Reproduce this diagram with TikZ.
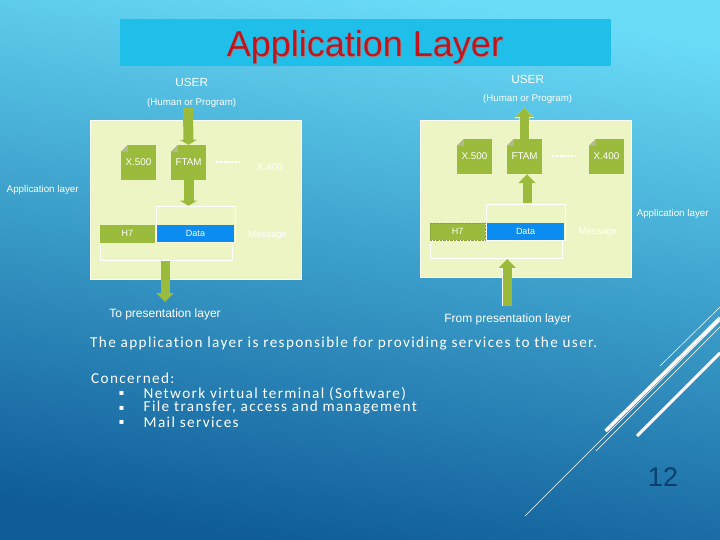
\documentclass[tikz,border=0pt]{standalone}
\usepackage{fontspec}
\setmainfont{Liberation Sans}
\newfontfamily\slidefont[LetterSpace=9, Ligatures=NoCommon]{Carlito}
\newfontfamily\bulletfont{DejaVu Sans}
\usetikzlibrary{positioning, arrows.meta}
\definecolor{bgtop}{HTML}{6ADCF8}
\definecolor{bgmid}{HTML}{3A9CC8}
\definecolor{bgbottom}{HTML}{0F5C98}
\definecolor{bandblue}{HTML}{1FBFEA}
\definecolor{panelgreen}{HTML}{EEF5C4}
\definecolor{boxgreen}{HTML}{9BBB3D}
\definecolor{datablue}{HTML}{0A8CF0}
\definecolor{titlered}{HTML}{C0141E}
\definecolor{numblue}{HTML}{0B3F6E}
\tikzset{
  panel/.style={fill=panelgreen, draw=white, line width=.6pt, minimum width=211pt, inner sep=0pt},
  appbox/.style={fill=boxgreen, text=white, minimum width=35pt, minimum height=35pt, inner sep=0pt, font=\fontsize{9.8}{11}\selectfont},
  hdrbox/.style={fill=boxgreen, text=white, minimum width=55pt, minimum height=17.5pt, inner sep=0pt, font=\fontsize{9}{10}\selectfont},
  databox/.style={fill=datablue, text=white, minimum width=77pt, minimum height=17pt, inner sep=0pt, font=\fontsize{9}{10}\selectfont},
  framebox/.style={draw=white, line width=.6pt, inner sep=0pt},
  plain/.style={text=white, inner sep=0pt, font=\fontsize{#1}{12}\selectfont},
  plain/.default=9.8,
  bodytext/.style={text=white, inner sep=0pt, anchor=west, font=\slidefont\fontsize{15.2}{17}\selectfont},
  flow/.style={draw=boxgreen, line width=9pt, -{Triangle[width=17pt, length=9pt]}},
  flowshort/.style={draw=boxgreen, line width=10pt, -{Triangle[width=17pt, length=5pt]}},
  flowedge/.style={draw=white, line width=10.2pt, -{Triangle[width=19pt, length=10pt]}},
  dots/.style={draw=white, line width=2pt, dash pattern=on 3pt off .8pt},
}
\begin{document}
\begin{tikzpicture}[x=1pt, y=-1pt, node distance=50pt]
  \useasboundingbox (0,0) rectangle (720,540);
  % Background
  \shade[top color=bgtop, bottom color=bgbottom, middle color=bgmid, shading angle=-9] (0,0) rectangle (720,540);
  \draw[white, line width=.5pt] (660,366) -- (720,307);
  \draw[white, line width=3.5pt] (605.5,431) -- (720,318);
  \draw[white, line width=.5pt] (596,451) -- (720,327);
  \draw[white, line width=3pt] (637,436) -- (720,353);
  \draw[white, line width=.5pt] (525,516) -- (720,321);

  % Title
  \node (band) [fill=bandblue, minimum width=491pt, minimum height=47pt, inner sep=0pt] at (365.5,42.5) {};
  \node (shadow) [text=black!45, inner sep=0pt, font=\fontsize{36}{40}\selectfont] at (365.8,47.8) {Application Layer};
  \node (title) [text=titlered, inner sep=0pt, font=\fontsize{36}{40}\selectfont] at (365,47) {Application Layer};

  % Left panel
  \node (panelL) [panel, minimum height=159pt] at (195.5,199.5) {};
  \node (userL) [plain=11.8] at (191.7,82.7) {USER};
  \node (humanL) [plain=9.7] at (191.7,102.7) {(Human or Program)};
  \node (x500L) [appbox] at (138.5,162.5) {X.500};
  \node (ftamL) [right of=x500L, appbox] {FTAM};
  \coordinate (dotsAL) at (216,161.7);
  \coordinate (dotsBL) at (240,161.7);
  \node (x400L) [plain] at (270,166.7) {X.400};
  \node (upperL) [framebox, minimum width=79pt, minimum height=36pt] at (195.5,224) {};
  \node (lowerL) [framebox, minimum width=132pt, minimum height=18pt] at (166,251) {};
  \node (h7L) [hdrbox] at (127.5,233.8) {H7};
  \node (dataL) [databox] at (195.5,233.5) {Data};
  \node (messageL) [plain=9.5] at (267.7,235.7) {Message};
  \node (applayerL) [plain=9.8] at (42.7,190) {Application layer};
  \node (toL) [plain=12] at (165,314) {To presentation layer};
  \coordinate (inL) at (188,108);
  \coordinate (outL) at (165,261);
  \coordinate (tipL) at (165,302);

  \draw[flowshort] (inL) -- (ftamL.north);
  \draw[flowshort] (ftamL.south) -- (upperL.north -| ftamL.south);
  \draw[flow] (outL) -- (tipL);
  \draw[dots] (dotsAL) -- (dotsBL);

  % Right panel
  \node (panelR) [panel, minimum height=157pt] at (525.5,198.5) {};
  \node (userR) [plain=11.8] at (527.7,79.3) {USER};
  \node (humanR) [plain=9.7] at (527.7,98.7) {(Human or Program)};
  \node (x500R) [appbox] at (474.5,156.5) {X.500};
  \node (ftamR) [right of=x500R, appbox] {FTAM};
  \node (x400R) [right of=ftamR, xshift=32pt, appbox] {X.400};
  \coordinate (dotsAR) at (552,156);
  \coordinate (dotsBR) at (576,156);
  \node (upperR) [framebox, minimum width=79pt, minimum height=36pt] at (525.5,222) {};
  \node (lowerR) [framebox, minimum width=132pt, minimum height=18pt] at (496,249) {};
  \node (h7R) [hdrbox, draw=boxgreen!85!black, densely dotted] at (457.5,231.5) {H7};
  \node (dataR) [databox] at (525.5,231.5) {Data};
  \node (messageR) [plain=9.5] at (598,232) {Message};
  \node (applayerR) [plain=9.8] at (672.7,213.7) {Application layer};
  \node (fromR) [plain=12] at (507.7,319.3) {From presentation layer};
  \coordinate (outR) at (524.3,108);
  \coordinate (midR) at (527,203);
  \coordinate (inR) at (507.3,306);
  \coordinate (tipR) at (507.3,259);

  \draw[flowedge] (ftamR.north) -- (outR);
  \draw[flow] (ftamR.north) -- (outR);
  \draw[flow] (midR) -- (ftamR.south -| midR);
  \draw[flowedge] (inR) -- (tipR);
  \draw[flow] (inR) -- (tipR);
  \draw[dots] (dotsAR) -- (dotsBR);

  % Folded corners
  \foreach \corner in {x500L, ftamL, x500R, ftamR, x400R} {
    \fill[panelgreen] (\corner.north west) -- ++(7,0) -- ++(-7,7) -- cycle;
    \fill[black!25!panelgreen] (\corner.north west) ++(7,0) -- ++(0,7) -- ++(-7,0) -- cycle;
  }

  % Text
  \node (intro) [bodytext] at (90,344) {The application layer is responsible for providing services to the user.};
  \node (concerned) [bodytext] at (91,378.7) {Concerned:};
  \node (network) [bodytext] at (143.5,393.5) {Network virtual terminal (Software)};
  \node (transfer) [bodytext] at (143.5,408) {File transfer, access and management};
  \node (mail) [bodytext] at (143.5,422.5) {Mail services};
  \foreach \entry in {network, transfer, mail}
    \node (bullet\entry) [left=19pt of \entry.west, text=white, inner sep=0pt, font=\bulletfont\fontsize{8}{8}\selectfont] {▪};
  \node (pagenum) [text=numblue, inner sep=0pt, font=\fontsize{27}{30}\selectfont] at (663,476.7) {12};
\end{tikzpicture}
\end{document}
